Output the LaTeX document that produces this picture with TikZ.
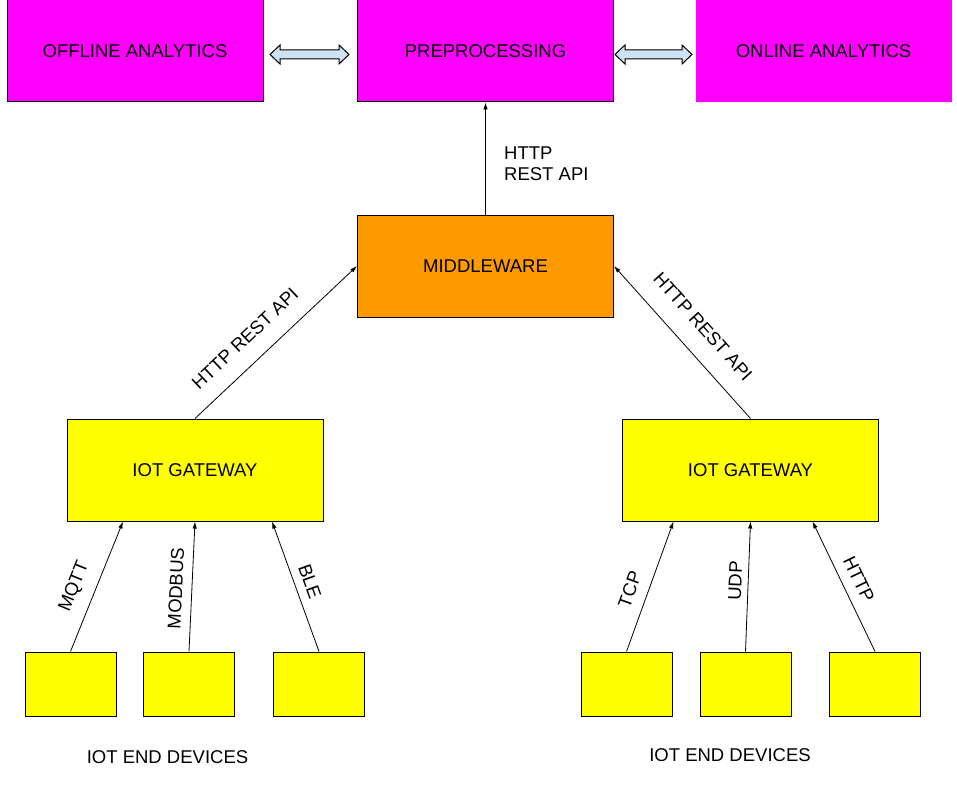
\documentclass[tikz,border=0pt]{standalone}
\usepackage{fontspec}
\setmainfont{Liberation Sans}
\usetikzlibrary{arrows.meta}

\definecolor{mag}{HTML}{FF00FF}
\definecolor{mid}{HTML}{FF9900}
\definecolor{yel}{HTML}{FFFF00}
\definecolor{dblfill}{HTML}{CFE2F3}

\begin{document}
\begin{tikzpicture}[x=1pt,y=-1pt,
  box/.style={draw=black, line width=1pt, minimum width=256pt, minimum height=102pt, font=\fontsize{18.5}{22}\selectfont},
  dev/.style={draw=black, line width=1pt, fill=yel, minimum width=91pt, minimum height=64pt},
  arr/.style={line width=0.8pt, -{Latex[length=7pt,width=4.5pt]}},
  lbl/.style={sloped, inner sep=0pt, font=\fontsize{18.5}{22}\selectfont}]
\useasboundingbox (0,0) rectangle (957,789);

\node[box, fill=mag] (off) at (135,51) {OFFLINE ANALYTICS};
\node[box, fill=mag] (pre) at (485.5,51) {PREPROCESSING};
\node[box, fill=mag, draw=none] (on) at (823.5,51) {ONLINE ANALYTICS};
\node[box, fill=mid] (mw) at (485.5,266) {MIDDLEWARE};
\node[box, fill=yel] (gw1) at (195,470) {IOT GATEWAY};
\node[box, fill=yel] (gw2) at (750.5,470) {IOT GATEWAY};
\node[dev] (d1) at (70.5,684) {};
\node[dev] (d2) at (189,684) {};
\node[dev] (d3) at (319,684) {};
\node[dev] (d4) at (626.5,684) {};
\node[dev] (d5) at (745.5,684) {};
\node[dev] (d6) at (875,684) {};

% two-way arrows between the top boxes
\foreach \a/\b in {270/349, 615/692}
{\draw[fill=dblfill, line width=1pt] (\a,54.5) -- (\a+10,45) -- (\a+10,50) -- (\b-10,50) -- (\b-10,45)
  -- (\b,54.5) -- (\b-10,64) -- (\b-10,59) -- (\a+10,59) -- (\a+10,64) -- cycle;}

\draw[arr] (mw.north) -- (pre.south);
\node[anchor=north west, inner sep=0pt, align=left, font=\fontsize{18.5}{20.5}\selectfont] (api) at (504,147) {HTTP\\REST API};

\draw[arr] (gw1.north) -- (mw.west) node[lbl, pos=0.41, above=17pt] {HTTP REST API};
\draw[arr] (gw2.north) -- (mw.east) node[lbl, pos=0.49, above=19pt] {HTTP REST API};

\foreach \p/\q/\s/\t/\w/\b in {d1/gw1/-72/MQTT/0.44/12, d2/gw1/0/MODBUS/0.48/9, d3/gw1/77/BLE/0.5/8.5,
  d4/gw2/-77/TCP/0.43/11, d5/gw2/0/UDP/0.54/6, d6/gw2/62/HTTP/0.5/10}
{\draw[arr] (\p.north) -- ([xshift=\s pt]\q.south) node[lbl, pos=\w, above=\b pt] {\t};}

\node[font=\fontsize{18.5}{22}\selectfont] (endl) at (167.5,757) {IOT END DEVICES};
\node[font=\fontsize{18.5}{22}\selectfont] (endr) at (730,755) {IOT END DEVICES};

\end{tikzpicture}
\end{document}
